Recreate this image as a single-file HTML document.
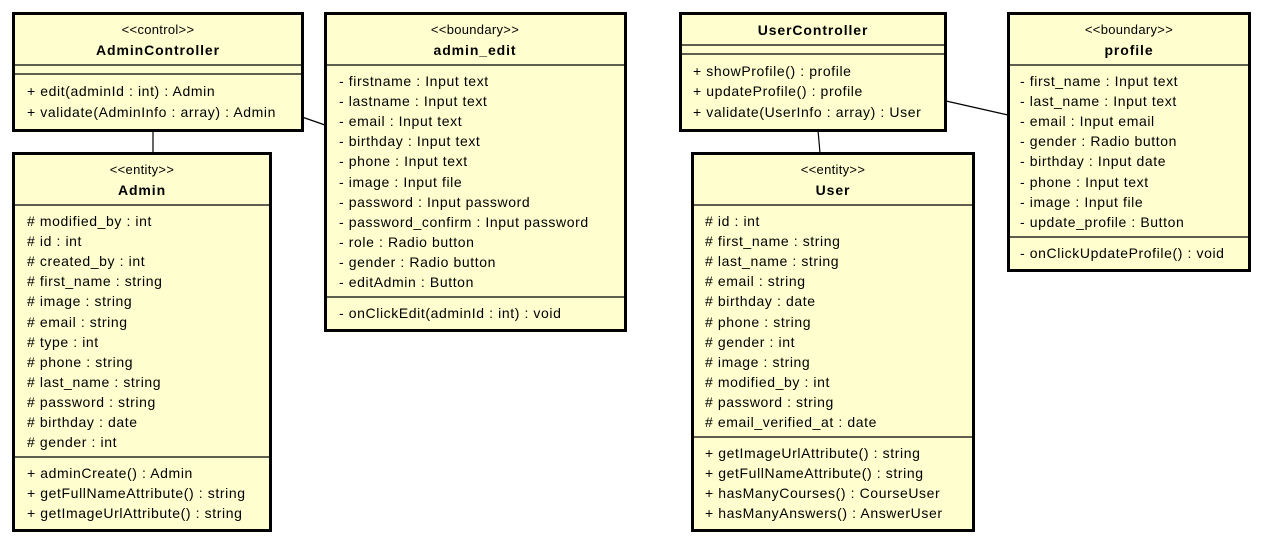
<!DOCTYPE html>
<html><head><style>
body{margin:0;background:#fff}
text{font-family:"Liberation Sans",sans-serif;font-size:14px;fill:#000;letter-spacing:0.6px}
.s{font-size:13px;text-anchor:middle;letter-spacing:0.3px}
.n{font-weight:bold;text-anchor:middle;letter-spacing:0.9px}
rect{fill:#FEFECE;stroke:#000;stroke-width:3}
line{stroke:#000;stroke-width:1.2}
</style></head><body>
<svg width="1264" height="545" xmlns="http://www.w3.org/2000/svg">
<line x1="153" y1="130" x2="153" y2="153"/>
<line x1="302" y1="117" x2="325" y2="125"/>
<line x1="818" y1="130" x2="820" y2="153"/>
<line x1="946" y1="101" x2="1008" y2="115"/>

<!-- AdminController -->
<rect x="13.5" y="13.5" width="289" height="117"/>
<line x1="13" y1="65" x2="302" y2="65"/><line x1="13" y1="74" x2="302" y2="74"/>
<text class="s" x="158" y="34">&lt;&lt;control&gt;&gt;</text>
<text class="n" x="158" y="55">AdminController</text>
<text x="27" y="96">+ edit(adminId : int) : Admin</text>
<text x="27" y="117">+ validate(AdminInfo : array) : Admin</text>

<!-- admin_edit -->
<rect x="325.5" y="13.5" width="300" height="317"/>
<line x1="325" y1="65" x2="626" y2="65"/><line x1="325" y1="297" x2="626" y2="297"/>
<text class="s" x="475" y="34">&lt;&lt;boundary&gt;&gt;</text>
<text class="n" x="475" y="55">admin_edit</text>
<text x="339" y="86">- firstname : Input text</text>
<text x="339" y="106">- lastname : Input text</text>
<text x="339" y="126">- email : Input text</text>
<text x="339" y="146">- birthday : Input text</text>
<text x="339" y="166">- phone : Input text</text>
<text x="339" y="187">- image : Input file</text>
<text x="339" y="207">- password : Input password</text>
<text x="339" y="227">- password_confirm : Input password</text>
<text x="339" y="247">- role : Radio button</text>
<text x="339" y="267">- gender : Radio button</text>
<text x="339" y="287">- editAdmin : Button</text>
<text x="339" y="318">- onClickEdit(adminId : int) : void</text>

<!-- Admin -->
<rect x="13.5" y="153.5" width="257" height="377"/>
<line x1="13" y1="205" x2="271" y2="205"/><line x1="13" y1="457" x2="271" y2="457"/>
<text class="s" x="142" y="174">&lt;&lt;entity&gt;&gt;</text>
<text class="n" x="142" y="195">Admin</text>
<text x="27" y="226"># modified_by : int</text>
<text x="27" y="246"># id : int</text>
<text x="27" y="266"># created_by : int</text>
<text x="27" y="286"># first_name : string</text>
<text x="27" y="306"># image : string</text>
<text x="27" y="327"># email : string</text>
<text x="27" y="347"># type : int</text>
<text x="27" y="367"># phone : string</text>
<text x="27" y="387"># last_name : string</text>
<text x="27" y="407"># password : string</text>
<text x="27" y="427"># birthday : date</text>
<text x="27" y="447"># gender : int</text>
<text x="27" y="478">+ adminCreate() : Admin</text>
<text x="27" y="498">+ getFullNameAttribute() : string</text>
<text x="27" y="518">+ getImageUrlAttribute() : string</text>

<!-- UserController -->
<rect x="680.5" y="13.5" width="265" height="117"/>
<line x1="680" y1="45" x2="946" y2="45"/><line x1="680" y1="54" x2="946" y2="54"/>
<text class="n" x="813" y="35">UserController</text>
<text x="693" y="76">+ showProfile() : profile</text>
<text x="693" y="96">+ updateProfile() : profile</text>
<text x="693" y="117">+ validate(UserInfo : array) : User</text>

<!-- profile -->
<rect x="1008.5" y="13.5" width="241" height="257"/>
<line x1="1008" y1="65" x2="1250" y2="65"/><line x1="1008" y1="237" x2="1250" y2="237"/>
<text class="s" x="1129" y="34">&lt;&lt;boundary&gt;&gt;</text>
<text class="n" x="1129" y="55">profile</text>
<text x="1020" y="86">- first_name : Input text</text>
<text x="1020" y="106">- last_name : Input text</text>
<text x="1020" y="126">- email : Input email</text>
<text x="1020" y="146">- gender : Radio button</text>
<text x="1020" y="166">- birthday : Input date</text>
<text x="1020" y="187">- phone : Input text</text>
<text x="1020" y="207">- image : Input file</text>
<text x="1020" y="227">- update_profile : Button</text>
<text x="1020" y="258">- onClickUpdateProfile() : void</text>

<!-- User -->
<rect x="692.5" y="153.5" width="281" height="377"/>
<line x1="692" y1="205" x2="974" y2="205"/><line x1="692" y1="437" x2="974" y2="437"/>
<text class="s" x="833" y="174">&lt;&lt;entity&gt;&gt;</text>
<text class="n" x="833" y="195">User</text>
<text x="705" y="226"># id : int</text>
<text x="705" y="246"># first_name : string</text>
<text x="705" y="266"># last_name : string</text>
<text x="705" y="286"># email : string</text>
<text x="705" y="306"># birthday : date</text>
<text x="705" y="327"># phone : string</text>
<text x="705" y="347"># gender : int</text>
<text x="705" y="367"># image : string</text>
<text x="705" y="387"># modified_by : int</text>
<text x="705" y="407"># password : string</text>
<text x="705" y="427"># email_verified_at : date</text>
<text x="705" y="458">+ getImageUrlAttribute() : string</text>
<text x="705" y="478">+ getFullNameAttribute() : string</text>
<text x="705" y="498">+ hasManyCourses() : CourseUser</text>
<text x="705" y="518">+ hasManyAnswers() : AnswerUser</text>
</svg>
</body></html>
